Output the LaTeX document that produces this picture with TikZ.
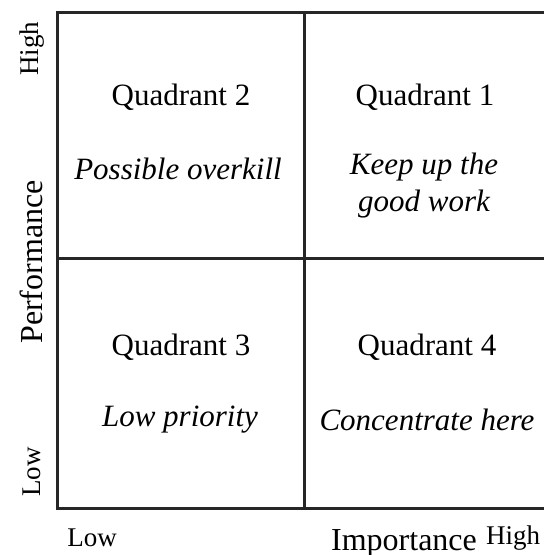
\documentclass[tikz,border=0pt]{standalone}
\usepackage{fontspec}
\setmainfont{Liberation Serif}
\usetikzlibrary{positioning}
\tikzset{
  quadtitle/.style={font=\fontsize{15.5}{18}\selectfont, inner sep=0pt},
  quadnote/.style={font=\fontsize{15.5}{18.5}\selectfont\itshape, align=center, inner sep=0pt},
  axislabel/.style={font=\fontsize{16}{18}\selectfont, inner sep=0pt},
  endlabel/.style={font=\fontsize{13.5}{15}\selectfont, inner sep=0pt},
  gridline/.style={line width=1.5pt, color=black!85},
}
\begin{document}
\begin{tikzpicture}[x=0.5pt, y=-0.5pt]
  \useasboundingbox (0,0) rectangle (544,555);
  % matrix frame
  \coordinate (tl) at (57,13);
  \coordinate (bl) at (57,508);
  \coordinate (tr) at (544,13);
  \coordinate (br) at (544,508);
  \coordinate (mt) at (304,13);
  \coordinate (mb) at (304,508);
  \coordinate (ml) at (57,258);
  \coordinate (mr) at (544,258);
  \draw[gridline] (tr) -- (tl) -- (bl) -- (br);
  \draw[gridline] (mt) -- (mb);
  \draw[gridline] (ml) -- (mr);

  % quadrants
  \node[quadtitle] (q2) at (181,97) {Quadrant 2};
  \node[quadnote]  (q2n) at (178,169) {Possible overkill};
  \node[quadtitle] (q1) at (425,97) {Quadrant 1};
  \node[quadnote]  (q1n) at (424,186) {Keep up the\\good work};
  \node[quadtitle] (q3) at (181,347) {Quadrant 3};
  \node[quadnote]  (q3n) at (180,420) {Low priority};
  \node[quadtitle] (q4) at (427,347) {Quadrant 4};
  \node[quadnote]  (q4n) at (427,420) {Concentrate here};

  % axes
  \node[axislabel, rotate=90] (perf) at (31,262) {Performance};
  \node[endlabel, rotate=90] (phigh) at (32,49) {High};
  \node[endlabel, rotate=90] (plow) at (32,472) {Low};
  \node[axislabel] (imp) at (404,543) {Importance};
  \node[endlabel] (ilow) at (92,538) {Low};
  \node[endlabel] (ihigh) at (513,538) {High};
\end{tikzpicture}
\end{document}
